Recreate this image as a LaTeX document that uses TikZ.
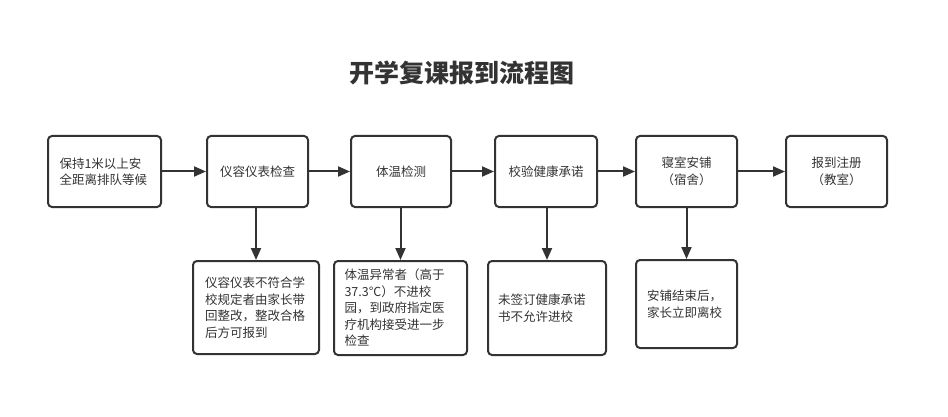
\documentclass[tikz,border=0pt]{standalone}
\usepackage{fontspec}
\setmainfont{Noto Sans CJK SC}
\usetikzlibrary{arrows.meta}
\definecolor{ink}{HTML}{333333}
\tikzset{
  box/.style={draw=ink, line width=2pt, rounded corners=4pt, text=ink, inner sep=0pt,
    font=\fontsize{12.5}{16.5}\selectfont, align=left},
  conn/.style={draw=ink, line width=2pt, -{Triangle[length=12pt,width=10pt]}}
}
\begin{document}
\begin{tikzpicture}[x=1pt,y=-1pt]
\useasboundingbox (0,0) rectangle (948,417);
\node[text=ink, font=\fontsize{25}{30}\selectfont\bfseries] (title) at (462,73) {开学复课报到流程图};
% top row
\node[box, minimum width=113pt, minimum height=71pt, text width=90pt] (a1) at (104.5,171.5) {保持1米以上安\\全距离排队等候};
\node[box, minimum width=101pt, minimum height=71pt, align=center] (a2) at (257.5,171.5) {仪容仪表检查};
\node[box, minimum width=100pt, minimum height=71pt, align=center] (a3) at (401,171.5) {体温检测};
\node[box, minimum width=102pt, minimum height=71pt, align=center] (a4) at (546,171.5) {校验健康承诺};
\node[box, minimum width=101pt, minimum height=71pt, align=center] (a5) at (686.5,171.5) {寝室安铺\\（宿舍）};
\node[box, minimum width=101pt, minimum height=71pt, align=center] (a6) at (836.5,171.5) {报到注册\\（教室）};
% bottom row
\node[box, minimum width=126pt, minimum height=93pt, text width=102pt] (b1) at (256,307.5) {仪容仪表不符合学\\校规定者由家长带\\回整改，整改合格\\后方可报到};
\node[box, minimum width=133pt, minimum height=94pt, text width=112pt] (b2) at (400.5,308) {体温异常者（高于\\37.3℃）不进校\\园，到政府指定医\\疗机构接受进一步\\检查};
\node[box, minimum width=118pt, minimum height=94pt, text width=98pt] (b3) at (547,308) {未签订健康承诺\\书不允许进校};
\node[box, minimum width=101pt, minimum height=88pt, text width=79pt] (b4) at (686.5,304) {安铺结束后，\\家长立即离校};
% connectors
\draw[conn] (a1) -- (a2);
\draw[conn] (a2) -- (a3);
\draw[conn] (a3) -- (a4);
\draw[conn] (a4) -- (a5);
\draw[conn] (a5) -- (a6);
\draw[conn] (a2.south -| b1) -- (b1.north);
\draw[conn] (a3.south -| b2) -- (b2.north);
\draw[conn] (a4.south -| b3) -- (b3.north);
\draw[conn] (a5.south -| b4) -- (b4.north);
\end{tikzpicture}
\end{document}
